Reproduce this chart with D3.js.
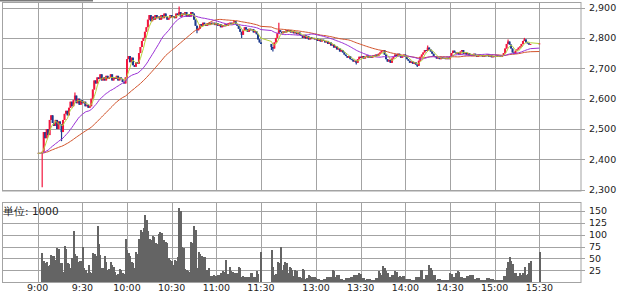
<!DOCTYPE html>
<html>
<head>
<meta charset="utf-8">
<script src="https://cdn.jsdelivr.net/npm/d3@7"></script>
<style>
  body { margin: 0; background: #fff; }
  text { font-family: "DejaVu Sans", sans-serif; fill: #222; }
</style>
</head>
<body>
<div id="chart"></div>
<script>
//////////////////////////
// data
//////////////////////////
var prevClose = 2420;

// 1 minute closes, 9:03 - 11:30
var amClose = [
  2425, 2490, 2470, 2500, 2480, 2530, 2545, 2520, 2510, 2530,
  2500, 2525, 2515, 2490, 2530, 2550, 2560, 2545, 2570, 2590,
  2575, 2595, 2610, 2585, 2600, 2580, 2595, 2585, 2590, 2575,
  2580, 2570, 2575, 2600, 2630, 2660, 2650, 2670, 2665, 2680,
  2660, 2670, 2660, 2675, 2665, 2670, 2680, 2660, 2670, 2665,
  2675, 2660, 2670, 2665, 2655, 2650, 2670, 2730, 2740, 2720,
  2735, 2710, 2705, 2720, 2715, 2750, 2770, 2790, 2800, 2820,
  2835, 2860, 2875, 2855, 2870, 2860, 2875, 2865, 2870, 2860,
  2875, 2865, 2880, 2870, 2860, 2865, 2875, 2868, 2872, 2865,
  2880, 2875, 2885, 2870, 2880, 2875, 2885, 2870, 2878, 2870,
  2885, 2880, 2860, 2840, 2825, 2830, 2845, 2840, 2850, 2845,
  2840, 2848, 2842, 2850, 2845, 2850, 2842, 2848, 2840, 2845,
  2835, 2842, 2838, 2845, 2840, 2848, 2850, 2845, 2850, 2855,
  2845, 2840, 2830, 2820, 2810, 2825, 2835, 2828, 2820, 2830,
  2825, 2828, 2818, 2822, 2812, 2795, 2785, 2780
];
var amVolume = [
  62, 45, 40, 43, 34, 36, 57, 55, 55, 47,
  71, 70, 40, 40, 22, 76, 70, 40, 38, 29,
  50, 108, 60, 56, 43, 45, 44, 75, 29, 26,
  19, 36, 22, 20, 62, 60, 55, 117, 80, 57,
  29, 30, 55, 43, 26, 28, 43, 36, 33, 22,
  15, 17, 27, 26, 19, 18, 90, 68, 61, 55,
  43, 40, 29, 63, 60, 90, 110, 105, 113, 141,
  130, 107, 90, 88, 97, 95, 82, 80, 101, 106,
  104, 89, 88, 85, 83, 50, 47, 45, 36, 47,
  45, 53, 155, 150, 74, 72, 28, 26, 24, 22,
  84, 82, 117, 110, 31, 64, 60, 55, 53, 54,
  26, 25, 29, 14, 13, 15, 14, 14, 16, 15,
  19, 24, 22, 47, 16, 18, 33, 24, 22, 20,
  19, 20, 33, 30, 12, 13, 12, 11, 12, 12,
  20, 19, 12, 11, 24, 17, 0, 64
];

// 1 minute closes, 12:30 - 15:24
var pmClose = [
  2770, 2765, 2785, 2800, 2815, 2825, 2820, 2815, 2822, 2818,
  2825, 2820, 2826, 2818, 2822, 2815, 2820, 2812, 2818, 2810,
  2808, 2800, 2810, 2798, 2805, 2795, 2802, 2796, 2800, 2795,
  2798, 2790, 2796, 2788, 2794, 2790, 2785, 2790, 2780, 2785,
  2775, 2778, 2768, 2772, 2762, 2765, 2755, 2760, 2752, 2745,
  2740, 2735, 2740, 2730, 2728, 2722, 2725, 2718, 2730, 2738,
  2735, 2740, 2732, 2738, 2742, 2735, 2740, 2735, 2742, 2738,
  2745, 2740, 2748, 2752, 2758, 2760, 2745, 2730, 2722, 2728,
  2718, 2732, 2738, 2745, 2740, 2748, 2742, 2735, 2740, 2745,
  2738, 2730, 2725, 2718, 2722, 2715, 2720, 2712, 2708, 2725,
  2738, 2745, 2752, 2760, 2758, 2768, 2762, 2755, 2748, 2740,
  2738, 2732, 2735, 2730, 2736, 2732, 2734, 2730, 2735, 2730,
  2738, 2750, 2758, 2752, 2748, 2752, 2745, 2755, 2760, 2748,
  2752, 2745, 2750, 2742, 2745, 2740, 2748, 2742, 2738, 2745,
  2740, 2743, 2738, 2742, 2740, 2745, 2738, 2742, 2736, 2740,
  2738, 2742, 2738, 2741, 2737, 2742, 2750, 2765, 2780, 2788,
  2778, 2765, 2752, 2748, 2758, 2762, 2768, 2772, 2780, 2790,
  2795, 2785, 2782, 2778, 2780
];
var pmVolume = [
  68, 33, 16, 18, 43, 40, 75, 26, 36, 43,
  40, 19, 33, 30, 26, 14, 26, 24, 12, 12,
  8, 28, 26, 7, 8, 16, 14, 12, 11, 12,
  10, 7, 6, 4, 5, 7, 6, 12, 11, 12,
  12, 26, 24, 12, 16, 15, 7, 6, 5, 5,
  9, 8, 9, 12, 11, 16, 15, 16, 16, 19,
  18, 9, 8, 5, 7, 7, 7, 5, 5, 5,
  9, 9, 23, 20, 16, 34, 30, 23, 20, 12,
  12, 16, 15, 23, 22, 12, 14, 12, 14, 13,
  7, 7, 6, 7, 5, 5, 5, 12, 11, 12,
  26, 25, 7, 7, 16, 15, 37, 30, 26, 16,
  15, 5, 7, 7, 5, 5, 5, 4, 4, 5,
  19, 18, 12, 12, 19, 23, 22, 12, 12, 9,
  9, 14, 13, 16, 16, 15, 7, 7, 9, 9,
  4, 4, 4, 4, 4, 9, 9, 7, 7, 7,
  5, 5, 5, 5, 5, 5, 14, 14, 31, 43,
  53, 45, 39, 19, 19, 14, 14, 19, 16, 19,
  33, 16, 18, 40, 44
];

// closing auction
var closingTime = "15:30",
    closingPrice = 2782,
    closingVolume = 64;

// candles with long shadows
var wickHigh = [["9:25", 2620], ["10:35", 2903], ["12:35", 2850], ["14:15", 2775], ["15:09", 2795], ["15:20", 2800]];
var wickLow = [["9:03", 2308], ["9:16", 2460], ["10:47", 2815], ["11:17", 2800], ["12:30", 2760], ["12:31", 2755], ["13:27", 2712], ["14:08", 2704]];

var timeTicks = ["9:00", "9:30", "10:00", "10:30", "11:00", "11:30", "13:00", "13:30", "14:00", "14:30", "15:00", "15:30"];
var priceTicks = [2300, 2400, 2500, 2600, 2700, 2800, 2900];
var volumeTicks = [25, 50, 75, 100, 125, 150];
var maPeriods = [5, 25, 50];
var maColors = ["#b5d13a", "#9a2fd6", "#d2522a"];

//////////////////////////
// setup
//////////////////////////
var width = 623, height = 296;

// minute slot, lunch break squeezed to a few slots
function slot(t) {
  var p = t.split(":"), min = +p[0] * 60 + +p[1];
  return min <= 690 ? min - 540 : 157 + (min - 750);
}

// build candles
var bars = [];
amClose.forEach(function(c, i) { bars.push({s: slot("9:03") + i, c: c, v: amVolume[i]}); });
pmClose.forEach(function(c, i) { bars.push({s: slot("12:30") + i, c: c, v: pmVolume[i]}); });
bars.push({s: slot(closingTime), c: closingPrice, v: closingVolume});
bars.forEach(function(d, i) {
  d.o = i ? bars[i - 1].c : prevClose;
  d.h = Math.max(d.o, d.c);
  d.l = Math.min(d.o, d.c);
});
var bySlot = {};
bars.forEach(function(d) { bySlot[d.s] = d; });
wickHigh.forEach(function(w) { var d = bySlot[slot(w[0])]; if (d) d.h = Math.max(d.h, w[1]); });
wickLow.forEach(function(w) { var d = bySlot[slot(w[0])]; if (d) d.l = Math.min(d.l, w[1]); });

// moving averages
function sma(n) {
  var out = [{s: slot("9:00"), v: prevClose}];
  bars.forEach(function(d, i) {
    var sum = 0;
    for (var k = i - n + 1; k <= i; k++) sum += k < 0 ? prevClose : bars[k].c;
    out.push({s: d.s, v: sum / n});
  });
  return out;
}

// scales
var x = d3.scaleLinear().domain([-24, 365]).range([2, 581]);
var y = d3.scaleLinear().domain([2300, 2900]).range([189.8, 7.5]);
var yv = d3.scaleLinear().domain([0, 150]).range([282.3, 210.7]);
var step = x(1) - x(0);

var svg = d3.select("#chart").append("svg")
  .attr("width", width)
  .attr("height", height);

// small tab mark top left
svg.append("rect")
  .attr("x", 0).attr("y", 0).attr("width", 93).attr("height", 1.5)
  .attr("fill", "#7a7a7a");

var gridColor = "#a3a3a3";

// panel frames and grids
function panel(top, bottom, scale, ticks, fmt) {
  var g = svg.append("g");
  g.append("rect")
    .attr("x", 2.5).attr("y", top)
    .attr("width", 578.5).attr("height", bottom - top)
    .attr("fill", "none").attr("stroke", gridColor);
  g.selectAll("line.h").data(ticks).enter().append("line")
    .attr("x1", 2.5).attr("x2", 585)
    .attr("y1", function(d) { return Math.round(scale(d)) + 0.5; })
    .attr("y2", function(d) { return Math.round(scale(d)) + 0.5; })
    .attr("stroke", gridColor);
  g.selectAll("line.v").data(timeTicks).enter().append("line")
    .attr("x1", function(d) { return Math.round(x(slot(d))) + 0.5; })
    .attr("x2", function(d) { return Math.round(x(slot(d))) + 0.5; })
    .attr("y1", top).attr("y2", bottom)
    .attr("stroke", gridColor);
  g.selectAll("text").data(ticks).enter().append("text")
    .attr("x", 589)
    .attr("y", function(d) { return scale(d); })
    .attr("dy", "0.36em")
    .style("font-size", "9.5px")
    .text(fmt);
}
panel(2.5, 191, y, priceTicks, d3.format(","));
panel(202.5, 282.5, yv, volumeTicks, function(d) { return d; });

// volume bars
svg.append("g")
  .attr("shape-rendering", "crispEdges")
  .selectAll("rect").data(bars).enter().append("rect")
  .attr("x", function(d) { return x(d.s) - step / 2; })
  .attr("width", step + 0.5)
  .attr("y", function(d) { return yv(d.v); })
  .attr("height", function(d) { return yv(0) - yv(d.v); })
  .attr("fill", "#646464");

// candles
var candle = svg.append("g").selectAll("g").data(bars).enter().append("g")
  .attr("fill", function(d) { return d.c >= d.o ? "#f2163e" : "#1d3b8e"; })
  .attr("stroke", function(d) { return d.c >= d.o ? "#f2163e" : "#1d3b8e"; });
candle.append("line")
  .attr("x1", function(d) { return x(d.s); })
  .attr("x2", function(d) { return x(d.s); })
  .attr("y1", function(d) { return y(d.h); })
  .attr("y2", function(d) { return y(d.l); })
  .attr("stroke-width", 1.2);
candle.append("rect")
  .attr("x", function(d) { return x(d.s) - 1; })
  .attr("width", 2)
  .attr("y", function(d) { return y(Math.max(d.o, d.c)); })
  .attr("height", function(d) { return Math.max(1, y(Math.min(d.o, d.c)) - y(Math.max(d.o, d.c))); })
  .attr("stroke", "none");

// moving average lines
var line = d3.line()
  .x(function(d) { return x(d.s); })
  .y(function(d) { return y(d.v); });
maPeriods.slice().reverse().forEach(function(n, i) {
  svg.append("path")
    .datum(sma(n))
    .attr("d", line)
    .attr("fill", "none")
    .attr("stroke", maColors[maPeriods.length - 1 - i])
    .attr("stroke-width", 1);
});

// time labels
svg.append("g").selectAll("text").data(timeTicks).enter().append("text")
  .attr("x", function(d) { return x(slot(d)); })
  .attr("y", 291)
  .attr("text-anchor", "middle")
  .style("font-size", "9.5px")
  .text(function(d) { return d; });

// unit label
svg.append("text")
  .attr("x", 3)
  .attr("y", 211)
  .attr("dy", "0.36em")
  .style("font-size", "10.5px")
  .text("単位: 1000");
</script>
</body>
</html>
